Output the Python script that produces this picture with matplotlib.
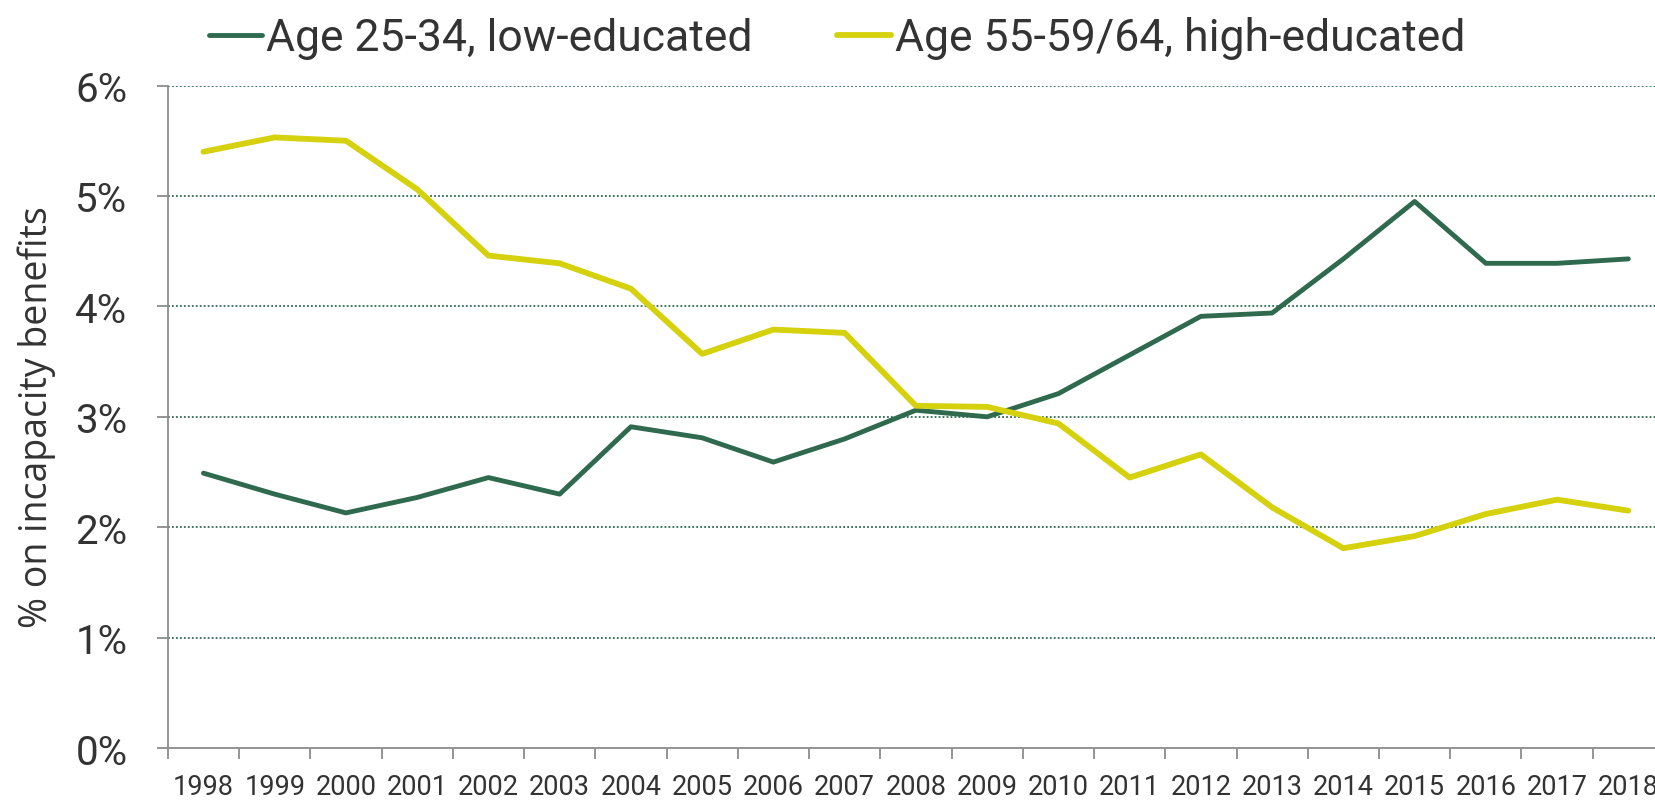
import matplotlib
matplotlib.use("Agg")
import matplotlib.pyplot as plt
from matplotlib.ticker import FixedLocator, FuncFormatter

# Share on incapacity benefits (%)
years = [str(y) for y in range(1998, 2019)]
low_edu_25_34 = [2.49, 2.30, 2.13, 2.27, 2.45, 2.30, 2.91, 2.81, 2.59, 2.80, 3.06,
                 3.00, 3.21, 3.56, 3.91, 3.94, 4.43, 4.95, 4.39, 4.39, 4.43]
high_edu_55_64 = [5.40, 5.53, 5.50, 5.06, 4.46, 4.39, 4.16, 3.57, 3.79, 3.76, 3.10,
                  3.09, 2.94, 2.45, 2.66, 2.18, 1.81, 1.92, 2.12, 2.25, 2.15]
series_names = ["Age 25-34, low-educated", "Age 55-59/64, high-educated"]
y_ticks = [0, 1, 2, 3, 4, 5, 6]

green = "#2f6a4f"
yellow = "#d5d10c"
grey = "#8c8c8c"
text_col = "#333333"
narrow = ["Roboto", "DejaVu Sans"]

fig = plt.figure(figsize=(16.55, 8.04), dpi=100)
ax = fig.add_axes([159 / 1568, 1 - 710 / 762, 21 * 67.5 / 1568, 628 / 762])

x = list(range(len(years)))
l1, = ax.plot(x, low_edu_25_34, color=green, lw=3.5, solid_capstyle="round",
              label=series_names[0])
l2, = ax.plot(x, high_edu_55_64, color=yellow, lw=4.2, solid_capstyle="round",
              label=series_names[1])

ax.set_xlim(-0.5, len(years) - 0.5)
ax.set_ylim(0, 6)

# y axis: dotted grid lines
for v in y_ticks[1:]:
    ax.axhline(v, color=green, lw=1.3, ls=(0, (1, 1.2)), zorder=0)
ax.yaxis.set_major_locator(FixedLocator(y_ticks))
ax.yaxis.set_major_formatter(FuncFormatter(lambda v, p: f"{v:.0f}%"))
ax.tick_params(axis="y", length=8, width=1.3, color=grey, pad=21,
               labelsize=29, labelcolor=text_col)

# x axis: tick marks at boundaries, labels in the middle of each category
ax.xaxis.set_major_locator(FixedLocator([i - 0.5 for i in range(len(years) + 1)]))
ax.xaxis.set_major_formatter(FuncFormatter(lambda v, p: ""))
ax.xaxis.set_minor_locator(FixedLocator(x))
ax.set_xticklabels(years, minor=True)
ax.tick_params(axis="x", which="major", length=8, width=1.3, color=grey)
ax.tick_params(axis="x", which="minor", length=0, pad=18, labelsize=19.5,
               labelcolor=text_col)

for lab in ax.get_yticklabels() + ax.get_xticklabels(minor=True):
    lab.set_family(narrow)

for side in ["top", "right"]:
    ax.spines[side].set_visible(False)
for side in ["left", "bottom"]:
    ax.spines[side].set_color(grey)
    ax.spines[side].set_linewidth(1.3)

fig.text(35 / 1568, 1 - 395 / 762, "% on incapacity benefits", rotation=90,
         ha="center", va="center", fontsize=27, color=text_col, family="Open Sans")

leg = fig.legend(handles=[l1, l2], loc="upper center", bbox_to_anchor=(793 / 1568, 1.028),
                 ncol=2, frameon=False, handlelength=1.2, handletextpad=0.1,
                 columnspacing=1.9, prop={"family": narrow, "size": 32})
for t in leg.get_texts():
    t.set_color(text_col)

fig.savefig("out.png", dpi=100)
